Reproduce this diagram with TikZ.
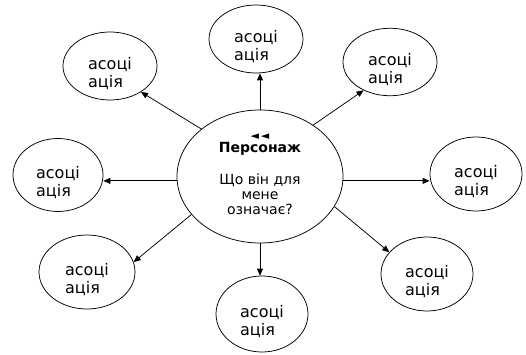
\documentclass[tikz,border=0pt]{standalone}
\usepackage{fontspec}
\setmainfont{DejaVu Sans}
\usetikzlibrary{shapes.geometric,arrows.meta}
\begin{document}
\begin{tikzpicture}[x=1pt,y=-1pt,
  bubble/.style={draw,ellipse,inner sep=0pt,line width=0.75pt},
  assoc/.style={bubble,font=\fontsize{16}{18.5}\selectfont,align=left},
  link/.style={-{Triangle[length=7pt,width=6pt]},line width=0.75pt}]
\newcommand\assoctext{\rule{0pt}{27pt}асоці\\ація}
\useasboundingbox (0,0) rectangle (526,355);
% centre
\node[bubble,minimum width=166pt,minimum height=133pt] (c) at (260,176.5) {};
\node[align=center,font=\fontsize{14}{15}\selectfont] (ct) at (260,174.5)
  {{\fontsize{11}{11}\selectfont ◄\,◄}\\[-2.5pt]\textbf{Персонаж}\\[17pt]Що він для\\мене\\означає?};
% associations
\node[assoc,minimum width=94pt,minimum height=68pt] (t)  at (256,39)  {\assoctext};
\node[assoc,minimum width=94pt,minimum height=68pt] (tl) at (110,66)  {\assoctext};
\node[assoc,minimum width=94pt,minimum height=60pt] (tr) at (390,62)  {\assoctext};
\node[assoc,minimum width=90pt,minimum height=73pt] (l)  at (58,175)  {\assoctext};
\node[assoc,minimum width=92pt,minimum height=74pt] (r)  at (476,174) {\assoctext};
\node[assoc,minimum width=96pt,minimum height=74pt] (bl) at (87,272)  {\assoctext};
\node[assoc,minimum width=92pt,minimum height=76pt] (b)  at (262,314) {\assoctext};
\node[assoc,minimum width=92pt,minimum height=74pt] (br) at (427,274) {\assoctext};
% connectors
\draw[link] (c.north) -- (c.north |- t.south);
\draw[link] (c.141) -- (tl.-40);
\draw[link] (c.44) -- (tr.227);
\draw[link] (c.183) -- (c.183 -| l.east);
\draw[link] (c.-3) -- (c.-3 -| r.west);
\draw[link] (c.209) -- (bl.12);
\draw[link] (c.south) -- (c.south |- b.north);
\draw[link] (c.-22) -- (br.150);
\end{tikzpicture}
\end{document}
